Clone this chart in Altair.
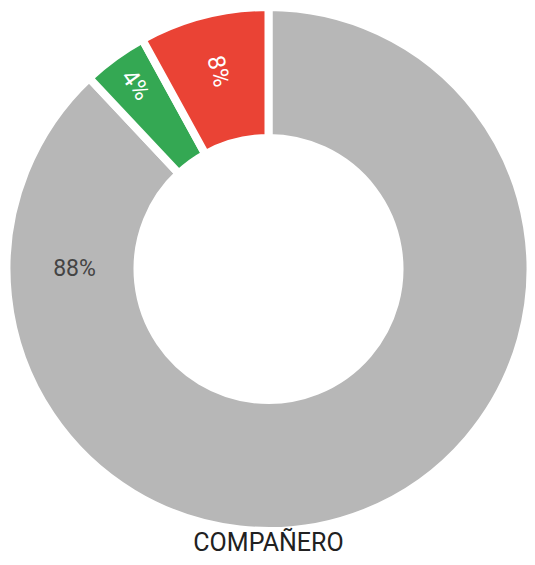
import math
import pandas as pd
import altair as alt

categories = ["Otros", "Sí", "No"]
values = [88, 4, 8]
labels = ["88%", "4%", "8%"]
colors = ["#b7b7b7", "#34a853", "#ea4335"]

total = sum(values)
cum = 0
mids = []
for v in values:
    mids.append((cum + v / 2) / total * 360)
    cum += v
angles = [(m + 90) % 360 for m in mids]

df = pd.DataFrame({
    "category": categories,
    "value": values,
    "label": labels,
    "order": list(range(len(values))),
    "angle": angles,
})

base = alt.Chart(df).encode(
    theta=alt.Theta("value:Q", stack=True),
    order=alt.Order("order:Q"),
)

arcs = base.mark_arc(innerRadius=131, outerRadius=262, stroke="white", strokeWidth=8).encode(
    color=alt.Color("category:N", scale=alt.Scale(domain=categories, range=colors), legend=None)
)


def white_label(cat, r):
    return base.transform_calculate(
        t=f"datum.category == '{cat}' ? datum.label : ''"
    ).mark_text(
        radius=r, font="Roboto", fontSize=24, color="white", align="center", baseline="middle"
    ).encode(text="t:N", angle=alt.Angle("angle:Q", scale=None))


green_lbl = white_label(categories[1], 227)
red_lbl = white_label(categories[2], 204)

gray_lbl = alt.Chart(df).transform_filter(
    f"datum.category == '{categories[0]}'"
).mark_text(
    theta=math.radians(270), radius=194, font="Roboto", fontSize=23, color="#444444",
    align="center", baseline="middle"
).encode(text="label:N")

chart = alt.layer(arcs, green_lbl, red_lbl, gray_lbl).properties(
    width=517,
    height=522,
    padding={"left": 2, "top": 0, "right": 0, "bottom": 27},
    autosize=alt.AutoSizeParams(type="none"),
    title=alt.TitleParams(
        "COMPAÑERO", orient="bottom", anchor="middle", font="Roboto", fontSize=25,
        fontWeight="normal", color="#212121", offset=-16, baseline="top"
    ),
).configure_view(strokeWidth=0)

chart.save("out.html", embed_options={"renderer": "svg", "actions": False})
